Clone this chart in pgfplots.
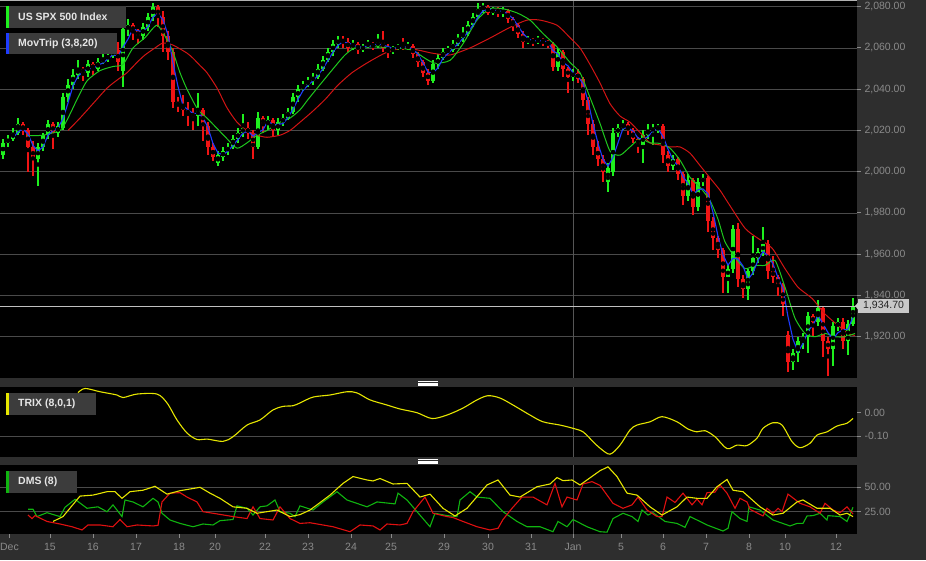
\documentclass[border=0pt]{standalone}
\usepackage{pgfplots}
\pgfplotsset{compat=1.18}
\usepackage{pgfplotstable}
\usepackage{fontspec}
\setmainfont{Liberation Sans}
\definecolor{bg}{HTML}{2E2E2E}
\definecolor{gridc}{HTML}{4A4A4A}
\definecolor{tickc}{HTML}{8A8A8A}
\definecolor{legbox}{HTML}{3C3C3C}
\definecolor{legtext}{HTML}{E6E6E6}
\definecolor{cgreen}{HTML}{1EF01E}
\definecolor{cred}{HTML}{F01414}
\definecolor{mablue}{HTML}{1E3CFF}
\definecolor{magreen}{HTML}{1EC81E}
\definecolor{mared}{HTML}{D21414}
\definecolor{tyellow}{HTML}{E6E600}
\definecolor{dred}{HTML}{E01010}
\definecolor{dgreen}{HTML}{10B410}
\definecolor{cursorc}{HTML}{555555}
\definecolor{pricebox}{HTML}{C8C8C8}
\newcommand\tickfont{\fontsize{10.5}{12}\selectfont}
\newcommand\legfont{\fontsize{10.5}{12}\selectfont\bfseries}

\pgfplotstableread{
x o h l c
3 2008 2016 2006 2014
8 2014 2018 2012 2016
13 2016 2021 2015 2019
18 2019 2026 2018 2023
23 2023 2024 2018 2020
28 2020 2021 2000 2012
33 2012 2015 1998 2006
38 2006 2014 1993 2012
43 2012 2019 2010 2018
48 2018 2025 2016 2023
53 2023 2024 2011 2019
58 2019 2024 2017 2022
63 2021 2038 2020 2036
68 2036 2045 2034 2042
73 2042 2050 2040 2047
78 2047 2054 2045 2050
83 2050 2051 2044 2048
88 2048 2054 2046 2052
93 2052 2053 2047 2050
98 2050 2055 2049 2053
103 2053 2057 2052 2055
108 2055 2058 2053 2056
113 2056 2062 2055 2059
118 2059 2063 2049 2053
123 2049 2072 2041 2069
128 2069 2074 2066 2071
133 2071 2072 2064 2068
138 2068 2069 2062 2066
143 2066 2072 2064 2070
148 2070 2077 2068 2075
153 2075 2082 2073 2080
158 2080 2081 2070 2075
163 2075 2078 2058 2066
168 2066 2068 2054 2058
173 2058 2060 2031 2034
178 2034 2036 2029 2032
183 2032 2037 2027 2030
188 2030 2034 2022 2028
193 2028 2031 2020 2027
198 2027 2038 2022 2030
203 2030 2031 2015 2022
208 2022 2024 2008 2012
213 2012 2014 2005 2007
218 2004 2010 2003 2008
223 2007 2012 2005 2010
228 2010 2014 2008 2012
233 2012 2018 2011 2016
238 2016 2021 2014 2019
243 2019 2028 2017 2021
248 2021 2024 2016 2019
253 2019 2020 2006 2012
258 2012 2029 2011 2026
263 2026 2027 2019 2023
268 2023 2027 2020 2025
273 2025 2026 2017 2020
278 2020 2026 2018 2024
283 2024 2028 2022 2026
288 2026 2031 2025 2029
293 2029 2038 2028 2036
298 2036 2042 2034 2040
303 2040 2044 2039 2042
308 2042 2046 2041 2044
313 2044 2048 2042 2046
318 2046 2052 2045 2050
323 2050 2056 2049 2054
328 2054 2060 2053 2058
333 2058 2064 2056 2062
338 2062 2066 2060 2064
343 2064 2066 2060 2063
348 2063 2065 2058 2060
353 2060 2064 2059 2062
358 2062 2063 2057 2059
363 2059 2062 2058 2061
368 2061 2064 2060 2062
373 2062 2063 2059 2061
378 2061 2067 2060 2063
383 2063 2068 2058 2060
388 2060 2062 2055 2059
393 2059 2061 2057 2060
398 2060 2062 2059 2061
403 2061 2065 2059 2060
408 2060 2063 2059 2061
413 2061 2062 2055 2057
418 2057 2058 2051 2053
423 2053 2054 2046 2048
428 2048 2050 2042 2044
433 2044 2054 2043 2052
438 2052 2057 2050 2055
443 2055 2060 2054 2058
448 2058 2061 2057 2059
453 2059 2064 2058 2062
458 2062 2067 2061 2065
463 2065 2070 2063 2067
468 2067 2073 2066 2071
473 2071 2077 2070 2075
478 2075 2082 2074 2079
483 2079 2082 2077 2080
488 2080 2081 2076 2077
493 2077 2080 2076 2079
498 2079 2080 2075 2077
503 2077 2080 2075 2078
508 2078 2079 2072 2074
513 2074 2075 2068 2071
518 2071 2072 2065 2067
523 2067 2068 2060 2063
528 2063 2066 2062 2064
533 2064 2065 2061 2063
538 2063 2066 2062 2064
543 2064 2065 2061 2063
548 2063 2064 2060 2062
553 2062 2063 2049 2051
558 2051 2060 2049 2058
563 2058 2059 2046 2050
568 2050 2051 2038 2046
573 2046 2050 2044 2048
578 2048 2050 2043 2045
583 2045 2046 2032 2035
588 2035 2036 2018 2023
593 2023 2025 2008 2012
598 2012 2015 2003 2006
603 2006 2008 1995 2000
608 1995 2004 1990 2002
613 2000 2021 1998 2019
618 2019 2023 2017 2021
623 2021 2025 2020 2023
628 2023 2024 2018 2020
633 2020 2021 2014 2016
638 2016 2017 2009 2013
643 2013 2020 2004 2018
648 2018 2023 2016 2020
653 2020 2023 2013 2021
658 2021 2023 2019 2022
663 2022 2023 2004 2008
668 2008 2010 2000 2003
673 2003 2008 2001 2006
678 2006 2007 1996 1999
683 1999 2000 1984 1988
688 1988 1999 1986 1996
693 1996 1997 1979 1983
698 1983 1997 1981 1995
703 1995 1999 1993 1997
708 1997 1998 1971 1976
713 1976 1978 1962 1968
718 1968 1969 1958 1962
723 1962 1963 1941 1949
728 1949 1955 1941 1953
733 1953 1974 1951 1972
738 1972 1975 1944 1948
743 1948 1950 1939 1943
748 1943 1953 1938 1952
753 1952 1969 1950 1958
758 1958 1963 1956 1961
763 1961 1973 1959 1965
768 1965 1967 1948 1952
773 1952 1959 1946 1949
778 1949 1950 1940 1945
783 1945 1946 1930 1936
788 1921 1923 1903 1908
793 1908 1914 1904 1912
798 1912 1920 1908 1918
803 1918 1922 1914 1920
808 1920 1932 1912 1930
813 1930 1931 1920 1927
818 1927 1938 1925 1934
823 1934 1935 1910 1918
828 1918 1920 1901 1914
833 1914 1927 1906 1925
838 1925 1929 1923 1927
843 1927 1929 1914 1918
848 1918 1928 1911 1926
853 1926 1939 1925 1934.7
}\candles

\pgfplotstableread{
x v
13 2016.3
18 2019.3
23 2020.7
28 2018.3
33 2012.7
38 2010
43 2012
48 2017.7
53 2020
58 2021.3
63 2025.7
68 2033.3
73 2041.7
78 2046.3
83 2048.3
88 2050
93 2050
98 2051.7
103 2052.7
108 2054.7
113 2056.7
118 2056
123 2060.3
128 2064.3
133 2069.3
138 2068.3
143 2068
148 2070.3
153 2075
158 2076.7
163 2073.7
168 2066.3
173 2052.7
178 2041.3
183 2032
188 2030
193 2028.3
198 2028.3
203 2026.3
208 2021.3
213 2013.7
218 2009
223 2008.3
228 2010
233 2012.7
238 2015.7
243 2018.7
248 2019.7
253 2017.3
258 2019
263 2020.3
268 2024.7
273 2022.7
278 2023
283 2023.3
288 2026.3
293 2030.3
298 2035
303 2039.3
308 2042
313 2044
318 2046.7
323 2050
328 2054
333 2058
338 2061.3
343 2063
348 2062.3
353 2061.7
358 2060.3
363 2060.7
368 2060.7
373 2061.3
378 2062
383 2061.3
388 2060.7
393 2059.7
398 2060
403 2060.3
408 2060.7
413 2059.3
418 2057
423 2052.7
428 2048.3
433 2048
438 2050.3
443 2055
448 2057.3
453 2059.7
458 2062
463 2064.7
468 2067.7
473 2071
478 2075
483 2078
488 2078.7
493 2078.7
498 2077.7
503 2078
508 2076.3
513 2074.3
518 2070.7
523 2067
528 2064.7
533 2063.3
538 2063.7
543 2063.3
548 2063
553 2058.7
558 2057
563 2053
568 2051.3
573 2048
578 2046.3
583 2042.7
588 2034.3
593 2023.3
598 2013.7
603 2006
608 2002.7
613 2007
618 2014
623 2021
628 2021.3
633 2019.7
638 2016.3
643 2015.7
648 2017
653 2019.7
658 2021
663 2017
668 2011
673 2005.7
678 2002.7
683 1997.7
688 1994.3
693 1989
698 1991.3
703 1991.7
708 1989.3
713 1980.3
718 1968.7
723 1959.7
728 1954.7
733 1958
738 1957.7
743 1954.3
748 1947.7
753 1951
758 1957
763 1961.3
768 1959.3
773 1955.3
778 1948.7
783 1943.3
788 1929.7
793 1918.7
798 1912.7
803 1916.7
808 1922.7
813 1925.7
818 1930.3
823 1926.3
828 1922
833 1919
838 1922
843 1923.3
848 1923.7
853 1929.6
}\mablue

\pgfplotsset{
  panel/.style={
    scale only axis, width=857pt,
    xmin=0, xmax=857,
    axis background/.style={fill=black},
    axis line style={draw=none},
    ytick pos=right, yticklabel pos=right, tick align=outside,
    major tick length=4pt, tick style={tickc, line width=1pt},
    grid style={gridc, line width=0.8pt},
    yticklabel style={font=\tickfont, text=tickc, /pgf/number format/.cd, fixed, fixed zerofill, precision=2, 1000 sep={,}, assume math mode=true},
  },
  candle/.style 2 args={only marks, mark=none,
    error bars/y dir=both, error bars/y explicit, error bars/error mark=none,
    error bars/error bar style={draw=#1, line width=#2}},
}

\begin{document}
\begin{tikzpicture}
\fill[bg] (0pt,0pt) rectangle (926pt,560pt);

% ---------- main price panel ----------
\begin{axis}[panel,
  at={(0pt,560pt)}, anchor=north west, height=378pt,
  ymin=1900, ymax=2083.25,
  xtick=\empty,
  ytick={1920,1940,1960,1980,2000,2020,2040,2060,2080},
  ymajorgrids,
]
\draw[cursorc, line width=0.8pt] (axis cs:573,1900) -- (axis cs:573,2083.25);
% green candles
\addplot[candle={cgreen}{1.1pt}, restrict expr to domain={\thisrow{c}-\thisrow{o}}{0.01:1000}]
  table[x=x, y expr={(\thisrow{h}+\thisrow{l})/2}, y error expr={(\thisrow{h}-\thisrow{l})/2}] {\candles};
\addplot[candle={cgreen}{3.4pt}, restrict expr to domain={\thisrow{c}-\thisrow{o}}{0.01:1000}]
  table[x=x, y expr={(\thisrow{o}+\thisrow{c})/2}, y error expr={abs(\thisrow{c}-\thisrow{o})/2}] {\candles};
% red candles
\addplot[candle={cred}{1.1pt}, restrict expr to domain={\thisrow{c}-\thisrow{o}}{-1000:-0.01}]
  table[x=x, y expr={(\thisrow{h}+\thisrow{l})/2}, y error expr={(\thisrow{h}-\thisrow{l})/2}] {\candles};
\addplot[candle={cred}{3.4pt}, restrict expr to domain={\thisrow{c}-\thisrow{o}}{-1000:-0.01}]
  table[x=x, y expr={(\thisrow{o}+\thisrow{c})/2}, y error expr={abs(\thisrow{c}-\thisrow{o})/2}] {\candles};
% moving averages
\addplot[mared, line width=1pt, smooth, tension=0.4, mark=none] coordinates {
(68,2020) (80,2026) (93,2033) (107,2040.5) (117,2044.4) (127,2048) (137,2053) (145,2056.6) (155,2060) (163,2062.4) (173,2061.4) (187,2057.5) (193,2055) (200,2051.5) (207,2048) (217,2040.6) (227,2031) (237,2024) (247,2020) (257,2017.7) (267,2016.7) (280,2017.7) (290,2020) (300,2024) (312,2029) (325,2035) (338,2042) (352,2048) (368,2053) (385,2057.5) (402,2060) (418,2059) (432,2057.5) (450,2056.6) (470,2060) (490,2064.8) (510,2070) (527,2073.5) (540,2073.5) (557,2071) (570,2065) (580,2060) (590,2052) (600,2043) (610,2033) (620,2027) (630,2024) (640,2019) (650,2014) (660,2013) (670,2012) (680,2012) (690,2009) (700,2003) (710,1997) (720,1991) (728,1985) (745,1972.6) (758,1967.7) (772,1963) (785,1953) (798,1944) (812,1938.6) (825,1931) (838,1925.5) (848,1921.6) (855,1920.6)};
\addplot[magreen, line width=1pt, smooth, tension=0.4, mark=none] coordinates {
(27,2017.5) (43,2017.7) (60,2020) (67,2025) (77,2035) (87,2044) (100,2049) (113,2051) (123,2052) (133,2060) (145,2065) (157,2071) (167,2064) (173,2058) (180,2048) (187,2040) (198,2030) (207,2026) (217,2021) (227,2016) (237,2011.4) (247,2014) (257,2017.7) (267,2020) (280,2024) (290,2026) (300,2030) (308,2035) (318,2041) (335,2051) (345,2056.6) (355,2060) (375,2060.5) (395,2060) (412,2059) (425,2055) (435,2052.6) (450,2054) (463,2062) (477,2073.5) (490,2079) (503,2079) (517,2077) (530,2073.5) (543,2067) (557,2060.5) (570,2053) (580,2048) (590,2036) (600,2023.4) (610,2010) (620,2008) (630,2012) (640,2016) (650,2014) (660,2013.7) (670,2011.4) (680,2005.6) (690,1997.3) (700,1992.5) (710,1986) (718,1977) (725,1966) (735,1958.5) (745,1953) (755,1954.6) (765,1954.6) (775,1957) (785,1944) (795,1929) (805,1921.6) (815,1920) (825,1921.6) (835,1920) (845,1920) (855,1921.6)};
\addplot[mablue, line width=1.1pt, mark=none] table[x=x, y=v] {\mablue};
\draw[white!75!black, line width=1.2pt] (axis cs:0,1934.7) -- (axis cs:857,1934.7);
\draw[white!70!black, line width=1.5pt] (rel axis cs:0,1) -- (rel axis cs:1,1);
\end{axis}

% ---------- TRIX panel ----------
\begin{axis}[panel,
  at={(0pt,173pt)}, anchor=north west, height=70pt,
  ymin=-0.19, ymax=0.1103,
  xtick=\empty,
  ytick={-0.1,0},
]
\draw[gridc, line width=0.8pt] (axis cs:0,-0.1) -- (axis cs:857,-0.1);
\draw[cursorc, line width=0.8pt] (axis cs:573,-0.19) -- (axis cs:573,0.1103);
\addplot[tyellow, line width=1.1pt, smooth, tension=0.5, mark=none] coordinates {
(78,0.086) (85,0.104) (100,0.09) (117,0.076) (123,0.065) (137,0.08) (157,0.08) (167,0.042) (177,-0.031) (187,-0.087) (197,-0.115) (207,-0.113) (223,-0.123) (233,-0.103) (247,-0.053) (260,-0.031) (273,0.012) (283,0.027) (293,0.03) (300,0.042) (313,0.067) (330,0.076) (347,0.09) (357,0.085) (370,0.055) (387,0.033) (400,0.016) (417,0.0) (432,-0.025) (447,-0.01) (463,0.02) (477,0.055) (488,0.073) (500,0.063) (513,0.033) (530,-0.01) (543,-0.039) (560,-0.053) (573,-0.067) (583,-0.082) (593,-0.124) (600,-0.152) (610,-0.178) (620,-0.139) (630,-0.074) (637,-0.053) (650,-0.039) (662,-0.017) (677,-0.039) (688,-0.07) (697,-0.082) (705,-0.077) (715,-0.103) (727,-0.154) (737,-0.139) (747,-0.141) (757,-0.109) (763,-0.067) (773,-0.043) (782,-0.053) (792,-0.124) (800,-0.15) (810,-0.131) (817,-0.096) (827,-0.082) (837,-0.057) (847,-0.045) (853,-0.024)};
\end{axis}

% ---------- DMS panel ----------
\begin{axis}[panel,
  at={(0pt,95pt)}, anchor=north west, height=69pt,
  ymin=2.15, ymax=72.85,
  xtick={9.5,50,93,136,179,215,265,308,351,391,444,488,531,573,621,663,706,749,785,836},
  xticklabels={Dec,15,16,17,18,20,22,23,24,25,29,30,31,Jan,5,6,7,8,10,12},
  ytick={25,50},
  ymajorgrids,
  xtick pos=left,
  xticklabel style={font=\tickfont, text=tickc, yshift=-2pt},
]
\draw[cursorc, line width=0.8pt] (axis cs:573,2.15) -- (axis cs:573,72.85);
\addplot[dgreen, line width=1.1pt, mark=none] coordinates {
(28,27.5) (33,27.5) (37,20) (47,24) (60,20) (65,29.5) (75,37.7) (87,28.5) (98,30) (107,25) (113,32) (122,20) (125,37) (133,35) (143,30) (153,38.7) (158,35) (162,23.4) (170,16.5) (180,13) (193,9.6) (203,12.4) (213,11.4) (220,15.8) (233,17) (237,31) (247,28.5) (253,21.6) (260,30) (267,31) (275,37) (280,25) (290,23.4) (295,20) (300,31) (313,26.7) (323,35) (337,45.5) (347,37) (367,30) (377,35) (395,33) (398,44) (407,37) (417,25) (430,9.6) (435,23.4) (447,21) (457,20) (460,37) (470,45.5) (477,40) (490,38.7) (503,25) (517,15) (527,9.6) (540,9.6) (553,4.5) (558,15) (567,9.6) (573,17) (587,9.6) (600,4.5) (607,4) (613,18) (623,23.4) (632,20) (638,15) (642,26.7) (648,21.6) (653,24) (665,15) (677,13) (685,9) (690,20) (700,15) (707,11.4) (723,5.2) (728,8) (732,25) (740,18) (747,15) (749,30) (760,26.7) (773,16.5) (790,10.4) (797,13) (803,13) (807,20.6) (813,21) (820,23.4) (827,16.5) (828,21) (840,20) (847,15) (853,29.5)};
\addplot[dred, line width=1.1pt, mark=none] coordinates {
(28,21.6) (32,18) (35,21) (47,15) (60,12.4) (72,9.6) (82,6.3) (88,11.4) (100,11.4) (113,9.6) (120,17) (127,9.6) (137,11.4) (153,10.4) (158,11) (162,35) (170,44) (180,44.5) (187,40) (197,35) (203,25) (213,23.4) (233,20) (247,18) (253,30) (260,18) (273,16.5) (280,30) (290,18) (300,13) (310,13.7) (333,9.6) (350,4.5) (360,11.4) (373,10.4) (380,6.3) (387,12.4) (400,11.4) (407,13) (413,25) (425,40) (433,23.4) (447,20) (453,19) (463,15) (477,9.6) (490,6.3) (498,8) (503,17) (512,28.5) (522,40) (533,40) (547,32) (555,54) (562,30) (567,40) (577,37) (583,53.4) (592,55.8) (600,52) (613,33.6) (623,28.5) (632,32) (638,40) (647,26.7) (657,20) (662,20) (667,40) (675,34.5) (683,44) (692,32) (697,38) (702,32) (707,44.5) (715,45) (720,52.4) (727,44) (735,28.5) (740,38.7) (747,35) (750,27.5) (763,20.6) (767,28.5) (773,23.4) (778,28.5) (782,25) (788,43) (800,33.6) (810,30) (820,23.4) (825,33.6) (833,26.7) (840,24) (847,30) (853,22.6)};
\addplot[tyellow, line width=1.1pt, mark=none] coordinates {
(53,15) (63,20) (80,41) (93,42) (107,45.5) (115,45.5) (122,38.7) (130,45.5) (143,47) (155,51) (167,43) (180,46.5) (200,50) (210,44) (220,38.7) (233,30) (247,28.5) (257,23.4) (277,26.7) (290,20) (300,22) (310,26.7) (330,42) (343,54) (353,61) (367,57.5) (373,56.5) (380,59) (393,53.4) (407,54) (420,40) (430,43) (443,28.5) (455,20.6) (467,28.5) (487,52.4) (498,57.5) (510,42) (520,40) (537,50.6) (550,53.4) (557,60) (563,56.8) (572,57.5) (580,52.4) (600,67) (608,71) (617,61) (627,44) (637,42) (650,30) (662,21.6) (677,30) (687,40) (697,38.7) (707,38.7) (717,50.6) (727,58) (733,47) (743,45.5) (760,30) (773,21.6) (783,23.4) (797,35) (803,37) (817,28.5) (830,28.5) (840,21.6) (847,23.4) (853,20)};
\end{axis}

% ---------- legend boxes ----------
\fill[legbox] (6pt,532pt) rectangle (126pt,554pt);
\fill[cgreen] (6pt,532pt) rectangle (8.5pt,554pt);
\node[anchor=west, inner sep=0pt, text=legtext, font=\legfont] at (18pt,543pt) {US SPX 500 Index};
\fill[legbox] (6pt,506pt) rectangle (117pt,527pt);
\fill[mablue] (6pt,506pt) rectangle (8.5pt,527pt);
\node[anchor=west, inner sep=0pt, text=legtext, font=\legfont] at (18pt,516.5pt) {MovTrip (3,8,20)};
\fill[legbox] (6pt,145pt) rectangle (96pt,167pt);
\fill[tyellow] (6pt,145pt) rectangle (8.5pt,167pt);
\node[anchor=west, inner sep=0pt, text=legtext, font=\legfont] at (18pt,156pt) {TRIX (8,0,1)};
\fill[legbox] (6pt,67pt) rectangle (77pt,89pt);
\fill[dgreen] (6pt,67pt) rectangle (8.5pt,89pt);
\node[anchor=west, inner sep=0pt, text=legtext, font=\legfont] at (18pt,78pt) {DMS (8)};

% ---------- price label ----------
\fill[pricebox] (855pt,254pt) -- (859pt,258.5pt) -- (859pt,249.5pt) -- cycle;
\node[anchor=west, fill=pricebox, text=black!85, font=\tickfont, inner xsep=5pt, inner ysep=2.8pt] at (858pt,254pt) {1,934.70};

% ---------- grips ----------
\foreach \yy in {178.5,177.1,175.7,174.3} {\draw[white, line width=0.6pt] (418pt,\yy pt) -- (438pt,\yy pt);}
\foreach \yy in {100.6,99.2,97.8,96.4} {\draw[white, line width=0.6pt] (418pt,\yy pt) -- (438pt,\yy pt);}

\pgfresetboundingbox
\useasboundingbox (0pt,0pt) rectangle (926pt,560pt);
\end{tikzpicture}
\end{document}
